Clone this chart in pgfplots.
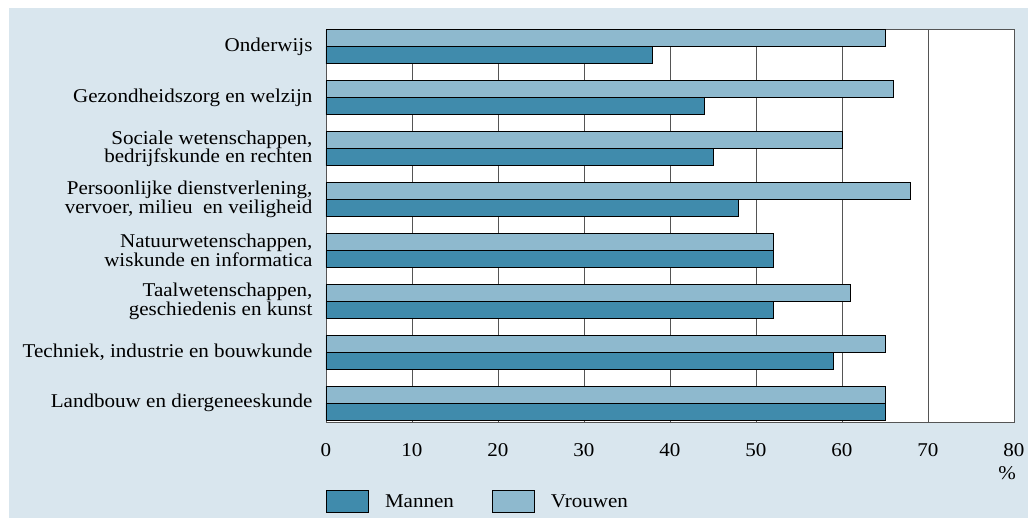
\documentclass[border=0pt]{standalone}
\usepackage{pgfplots}
\pgfplotsset{compat=1.18}
\usepackage{fontspec}
\setmainfont[FakeStretch=1.08]{Liberation Serif}
\definecolor{bgblue}{RGB}{217,230,238}
\definecolor{mdark}{RGB}{64,139,172}
\definecolor{vlight}{RGB}{142,185,206}
\definecolor{gridc}{RGB}{85,85,85}
\begin{document}
\begin{tikzpicture}
\path[use as bounding box] (0,0) rectangle (1028pt,518pt);
\fill[bgblue] (9pt,0pt) rectangle (1028pt,510pt);
\begin{axis}[
  at={(326pt,96pt)}, anchor=south west,
  scale only axis, width=688pt, height=393pt,
  xbar=0pt, bar width=0.334,
  xmin=0, xmax=80, ymin=-0.37, ymax=7.35,
  xtick={0,10,...,80},
  ytick={0,...,7},
  yticklabels={Landbouw en diergeneeskunde,
    Techniek{,} industrie en bouwkunde,
    {Taalwetenschappen,\\geschiedenis en kunst},
    {Natuurwetenschappen,\\wiskunde en informatica},
    {Persoonlijke dienstverlening,\\vervoer, milieu\ \ en veiligheid},
    {Sociale wetenschappen,\\bedrijfskunde en rechten},
    Gezondheidszorg en welzijn,
    Onderwijs},
  yticklabel style={align=right, font=\fontsize{19.5}{18.5}\selectfont, xshift=-10pt},
  xticklabel style={font=\fontsize{19.5}{18.5}\selectfont, yshift=-18pt},
  /pgf/number format/assume math mode=true,
  major tick length=0pt,
  xmajorgrids, grid style={gridc, line width=0.9pt},
  axis line style={gridc, line width=0.9pt},
  axis background/.style={fill=white},
  legend style={at={(0,-0.173)}, anchor=north west, draw=none, fill=none,
    inner sep=0pt, legend columns=2,
    font=\fontsize{19.5}{18.5}\selectfont,
    /tikz/every even column/.append style={column sep=36pt}},
  legend image code/.code={\draw[#1,draw=black,line width=0.8pt] (0pt,-11pt) rectangle (42pt,11pt);},
  legend cell align=left,
  clip=false,
]
\addplot[fill=mdark, draw=black, line width=0.8pt] coordinates {
  (65,0) (59,1) (52,2) (52,3) (48,4) (45,5) (44,6) (38,7)};
\addlegendentry{\hspace{14pt}Mannen}
\addplot[fill=vlight, draw=black, line width=0.8pt] coordinates {
  (65,0) (65,1) (61,2) (52,3) (68,4) (60,5) (66,6) (65,7)};
\addlegendentry{\hspace{14pt}Vrouwen}
\node[font=\fontsize{19.5}{18.5}\selectfont] at (rel axis cs:0.99,-0.13) {\%};
\end{axis}
\end{tikzpicture}
\end{document}
